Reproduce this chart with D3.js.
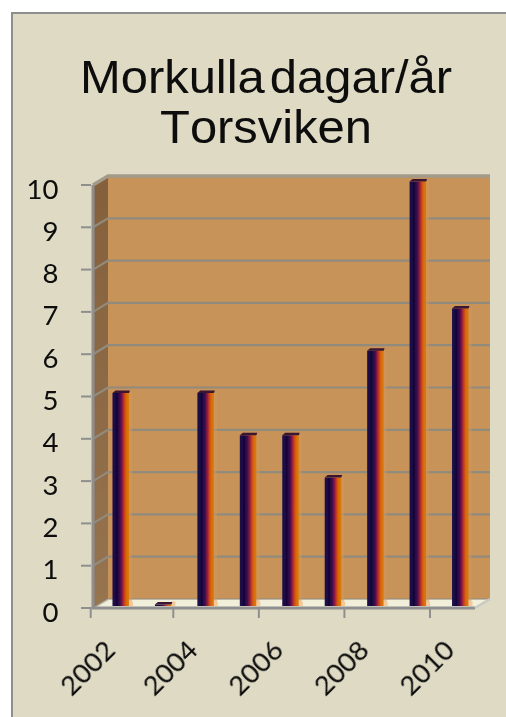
<!DOCTYPE html>
<html><head><meta charset="utf-8">
<script src="https://cdn.jsdelivr.net/npm/d3@7"></script>
<style>html,body{margin:0;padding:0;background:#fff}svg{display:block}</style></head>
<body><svg id="c" width="506" height="717"></svg>
<script>
const years = ["2002","2003","2004","2005","2006","2007","2008","2009","2010"];
const days = [5,0,5,4,4,3,6,10,7];
const yTicks = [0,1,2,3,4,5,6,7,8,9,10];
const xLabelYears = ["2002","2004","2006","2008","2010"];
const titleLines = ["Morkulla dagar/år","Torsviken"];
const barStops = [[0,"#22104e"],[.25,"#13053a"],[.45,"#3a0a4a"],[.6,"#8e1a42"],[.72,"#c8401e"],[.84,"#d96a04"],[1,"#d67c12"]];

const svg = d3.select("#c");
const defs = svg.append("defs");
const g = defs.append("linearGradient").attr("id","bar");
barStops.forEach(s=>g.append("stop").attr("offset",s[0]).attr("stop-color",s[1]));
const wg = defs.append("linearGradient").attr("id","wall").attr("x1",0).attr("x2",0).attr("y1",0).attr("y2",1);
wg.append("stop").attr("offset",0).attr("stop-color","#84603c");
wg.append("stop").attr("offset",1).attr("stop-color","#967450");
defs.append("filter").attr("id","soft").append("feGaussianBlur").attr("stdDeviation",0.55);
defs.append("filter").attr("id","softText").append("feGaussianBlur").attr("stdDeviation",0.3);

const y = d3.scaleLinear().domain([0,10]).range([608,185]);
const x = d3.scaleBand().domain(years).range([93,475]);
const tickX = d3.scalePoint().domain(xLabelYears.slice(1)).range([173.3,430]);
const tx = d => d==="2002" ? 90.7 : tickX(d);
const dx = 15, dy = -9;
const barW = 16.5;

// page
svg.append("rect").attr("x",12).attr("y",13).attr("width",500).attr("height",710)
  .attr("fill","#dedac4").attr("stroke","#8e8e8c").attr("stroke-width",2);

// title
svg.append("g").attr("filter","url(#softText)").selectAll("text").data(titleLines).join("text")
  .attr("x",(d,i)=>i?160:80).attr("y",(d,i)=>92.7+i*50.3)
  .attr("font-family","Liberation Sans").attr("font-size",46).attr("fill","#0a0a0a")
  .style("font-kerning","none")
  .attr("textLength",(d,i)=>i?212:372).attr("lengthAdjust","spacingAndGlyphs")
  .attr("word-spacing",-8)
  .text(d=>d);

const plot = svg.append("g").attr("filter","url(#soft)");
const x0 = x.range()[0], x1 = x.range()[1];

// back wall, side wall, floor
plot.append("rect").attr("x",x0+dx).attr("y",y(10)+dy).attr("width",x1-x0).attr("height",y(0)-y(10))
  .attr("fill","#c79359");
plot.append("path").attr("d",d3.line()([[x0,y(10)],[x0+dx,y(10)+dy],[x0+dx,y(0)+dy],[x0,y(0)]])).attr("fill","url(#wall)");
plot.append("path").attr("d",d3.line()([[x0,y(0)],[x0+dx,y(0)+dy],[x1+dx,y(0)+dy],[x1,y(0)]])).attr("fill","#f1eeda");

// gridlines
yTicks.forEach(t=>{
  plot.append("path").attr("fill","none").attr("stroke",t===10?"#a39b8a":"#918b7d").attr("stroke-width",t===10?3.5:2.2)
    .attr("d",d3.line()([[x0,y(t)],[x0+dx,y(t)+dy],[x1+dx,y(t)+dy]]))
    .attr("stroke-opacity",t===0?0.55:1);
});
// frame edges of box
plot.append("path").attr("fill","none").attr("stroke","#8f8f8f").attr("stroke-width",3)
  .attr("d",d3.line()([[x0,y(10)],[x0,y(0)],[x1,y(0)]]));
plot.append("path").attr("fill","none").attr("stroke","#c9c9c4").attr("stroke-width",2.5)
  .attr("d",d3.line()([[x1,y(0)],[x1+dx,y(0)+dy]]));

// bars
const bars = plot.append("g").selectAll("g").data(days).join("g")
  .attr("transform",(d,i)=>`translate(${x(years[i])+x.bandwidth()/2+dx/2-1-barW/2},${dy/2+1})`);
bars.append("rect").attr("x",barW).attr("y",d=>y(d)).attr("width",3).attr("height",d=>y(0)-y(d))
  .attr("fill","#d8985a").attr("opacity",.5);
bars.append("rect").attr("x",barW).attr("y",y(0)-3).attr("width",4).attr("height",4.5).attr("fill","#f5c898");
bars.append("rect").attr("y",d=>y(d)).attr("width",barW).attr("height",d=>y(0)-y(d)+1.5).attr("fill","url(#bar)");
bars.append("path").attr("fill","#3a1430")
  .attr("d",d=>d3.line()([[0,y(d)],[3,y(d)-2.5],[barW+1,y(d)-2.5],[barW,y(d)]]));

// axes
const ax = svg.append("g").attr("font-family","Lato").attr("fill","#0a0a0a");
const tickColor = "#8f8f8f";
ax.selectAll("line.y").data(yTicks).join("line").attr("class","y")
  .attr("x1",81).attr("x2",91).attr("y1",d=>y(d)).attr("y2",d=>y(d))
  .attr("stroke",tickColor).attr("stroke-width",2);
ax.selectAll("text.y").data(yTicks).join("text").attr("class","y")
  .attr("x",58.5).attr("y",d=>y(d)+13.5).attr("text-anchor","end")
  .attr("font-size",27.5).attr("filter","url(#softText)").text(d=>d);

ax.selectAll("line.x").data(xLabelYears).join("line").attr("class","x")
  .attr("x1",tx).attr("x2",tx).attr("y1",607).attr("y2",618)
  .attr("stroke",tickColor).attr("stroke-width",2);
ax.selectAll("text.x").data(xLabelYears).join("text").attr("class","x")
  .attr("text-anchor","middle").attr("font-size",27.5).attr("filter","url(#softText)")
  .attr("transform",d=>`translate(${tx(d)-3.5},667.5) rotate(-45)`)
  .attr("dy",10).text(d=>d);
</script></body></html>
